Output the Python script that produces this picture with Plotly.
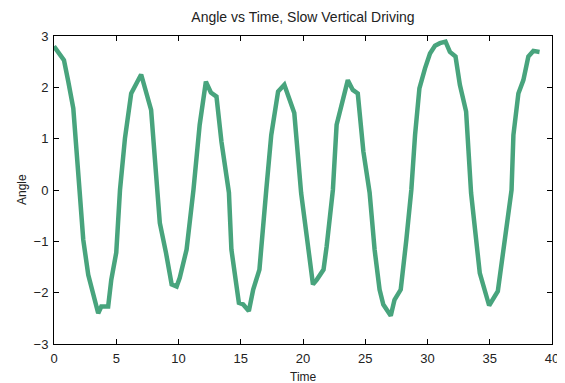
import plotly.graph_objects as go

time = [0, 0.45, 0.8, 1.15, 1.55, 2.05, 2.35, 2.75, 3.55, 3.8, 4.35, 4.6, 5.0, 5.3, 5.7,
        6.2, 7.0, 7.8, 8.5, 9.0, 9.45, 9.85, 10.1, 10.65, 11.2, 11.7, 12.2, 12.6, 13.05,
        13.45, 14.05, 14.25, 14.85, 15.2, 15.65, 16.0, 16.5, 17.05, 17.45, 18.0, 18.5,
        19.3, 19.85, 20.3, 20.8, 21.1, 21.65, 21.9, 22.4, 22.7, 23.6, 24.0, 24.4, 24.85,
        25.35, 25.75, 26.15, 26.45, 27.05, 27.35, 27.85, 28.3, 28.7, 29.0, 29.35, 29.8,
        30.2, 30.6, 31.0, 31.45, 31.8, 32.25, 32.6, 33.1, 33.5, 34.2, 34.95, 35.65, 36.2,
        36.75, 36.9, 37.3, 37.7, 38.1, 38.5, 39.0]
angle = [2.8, 2.63, 2.53, 2.11, 1.59, 0.0, -0.97, -1.65, -2.40, -2.27, -2.27, -1.75, -1.22,
         0.0, 1.01, 1.88, 2.25, 1.56, -0.64, -1.23, -1.84, -1.88, -1.71, -1.16, 0.0, 1.27,
         2.11, 1.9, 1.82, 0.94, -0.05, -1.16, -2.2, -2.23, -2.36, -1.94, -1.55, 0.0, 1.07,
         1.92, 2.05, 1.5, -0.06, -0.9, -1.84, -1.75, -1.55, -1.1, 0.0, 1.27, 2.14, 1.95,
         1.88, 0.75, -0.05, -1.16, -1.94, -2.23, -2.45, -2.14, -1.94, -0.97, 0.0, 1.07,
         1.98, 2.37, 2.66, 2.81, 2.86, 2.89, 2.69, 2.6, 2.05, 1.53, -0.06, -1.62, -2.25,
         -1.97, -0.9, 0.0, 1.07, 1.88, 2.14, 2.6, 2.71, 2.69]

x_ticks = [0, 5, 10, 15, 20, 25, 30, 35, 40]
y_ticks = [-3, -2, -1, 0, 1, 2, 3]

fig = go.Figure()
fig.add_trace(go.Scatter(x=time, y=angle, mode="lines",
                         line=dict(color="#48a47d", width=4.5), showlegend=False))

axis_common = dict(showline=True, linecolor="black", linewidth=1, mirror="ticks",
                   ticks="inside", ticklen=5, tickcolor="black", showgrid=False,
                   zeroline=False, automargin=False,
                   tickfont=dict(size=13, color="#222"))

# page body has an 8px default margin, so the figure is 8px smaller
fig.update_layout(
    width=557, height=375,
    margin=dict(l=46, r=13, t=28, b=39),
    paper_bgcolor="white", plot_bgcolor="white",
    font=dict(family="Liberation Sans, Arial, sans-serif", color="#222"),
    title=dict(text="Angle vs Time, Slow Vertical Driving", xref="paper", x=0.5,
               xanchor="center", yref="container", y=0.975, yanchor="middle",
               font=dict(size=14, color="#222")),
    xaxis=dict(range=[0, 40], tickvals=x_ticks, ticklabelstandoff=2, **axis_common),
    yaxis=dict(range=[-3, 3], tickvals=y_ticks, ticklabelstandoff=2, **axis_common),
    annotations=[
        dict(text="Time", xref="paper", yref="paper", x=0.5, y=0, yshift=-33,
             xanchor="center", yanchor="middle", showarrow=False, font=dict(size=12)),
        dict(text="Angle", xref="paper", yref="paper", x=0, y=0.5, xshift=-32,
             xanchor="center", yanchor="middle", textangle=-90, showarrow=False,
             font=dict(size=12)),
    ],
)

fig.write_html("out.html")
